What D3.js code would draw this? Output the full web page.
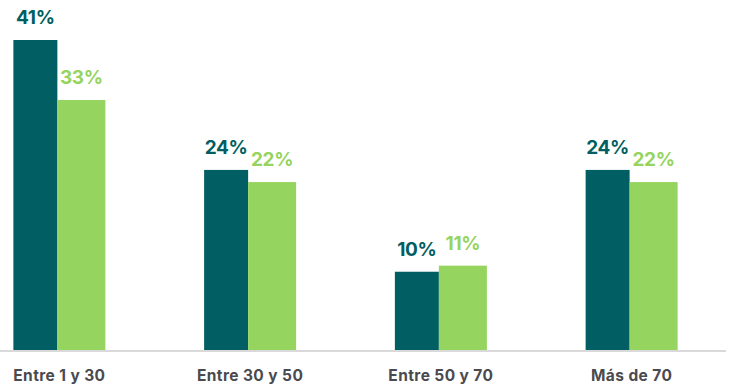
<!DOCTYPE html>
<html>
<head>
<meta charset="utf-8">
<script src="https://cdn.jsdelivr.net/npm/d3@7"></script>
<style>
  html, body { margin: 0; padding: 0; background: #ffffff; }
  svg { display: block; }
</style>
</head>
<body>
<svg id="chart" width="732" height="388"></svg>
<script>
// ---- data ----
const categories = ["Entre 1 y 30", "Entre 30 y 50", "Entre 50 y 70", "Más de 70"];
const seriesNames = ["Serie A", "Serie B"];
const seriesA = [0.408, 0.237, 0.103, 0.237];
const seriesB = [0.329, 0.221, 0.111, 0.221];

// ---- layout ----
const baseY = 350;
const svg = d3.select("#chart");
const colors = ["#015e62", "#95d45e"];

const x = d3.scaleBand().domain(categories).range([-36, 727]).paddingInner(0).paddingOuter(0);
const xs = d3.scaleBand().domain(seriesNames).range([x.bandwidth()/2 - 46, x.bandwidth()/2 + 46]);
const y = d3.scaleLinear().domain([0, 0.408]).range([baseY, 40]);
// second bar slightly overlaps the first one
const shift = 2;
const barX = j => xs(seriesNames[j]) - (j === 1 ? shift : 0);
const barW = j => xs.bandwidth() + (j === 1 ? shift : -shift);

const data = categories.map((c, i) => ({ cat: c, vals: [seriesA[i], seriesB[i]] }));

const g = svg.selectAll("g.grp").data(data).join("g")
  .attr("class", "grp")
  .attr("transform", d => `translate(${x(d.cat)},0)`);

g.selectAll("rect").data(d => d.vals.map((v, j) => ({ v, j })))
  .join("rect")
  .attr("x", d => barX(d.j))
  .attr("width", d => barW(d.j))
  .attr("y", d => y(d.v))
  .attr("height", d => baseY - y(d.v))
  .attr("fill", d => colors[d.j]);

const fmt = d3.format(".0%");
g.selectAll("text.val").data(d => d.vals.map((v, j) => ({ v, j })))
  .join("text")
  .attr("class", "val")
  .attr("x", d => barX(d.j) + barW(d.j)/2)
  .attr("y", d => y(d.v) - 16)
  .attr("text-anchor", "middle")
  .attr("font-family", "Inter, 'Open Sans', sans-serif")
  .attr("font-weight", 700)
  .attr("font-size", 19)
  .attr("letter-spacing", -0.3)
  .attr("fill", d => colors[d.j])
  .text(d => fmt(d.v));

// axis
const axis = svg.append("g").attr("transform", `translate(0,${baseY})`)
  .call(d3.axisBottom(x).tickSize(0).tickPadding(0));
axis.select(".domain").remove();
svg.append("line")
  .attr("x1", 0).attr("x2", 726)
  .attr("y1", baseY + 1).attr("y2", baseY + 1)
  .attr("stroke", "#d9d9d9").attr("stroke-width", 2);
axis.selectAll(".tick text")
  .attr("y", 31)
  .attr("dy", 0)
  .attr("font-family", "Inter, 'Open Sans', sans-serif")
  .attr("font-weight", 700)
  .attr("font-size", 15.5)
  .attr("letter-spacing", 0.4)
  .attr("fill", "#4a4a4f");
</script>
</body>
</html>
